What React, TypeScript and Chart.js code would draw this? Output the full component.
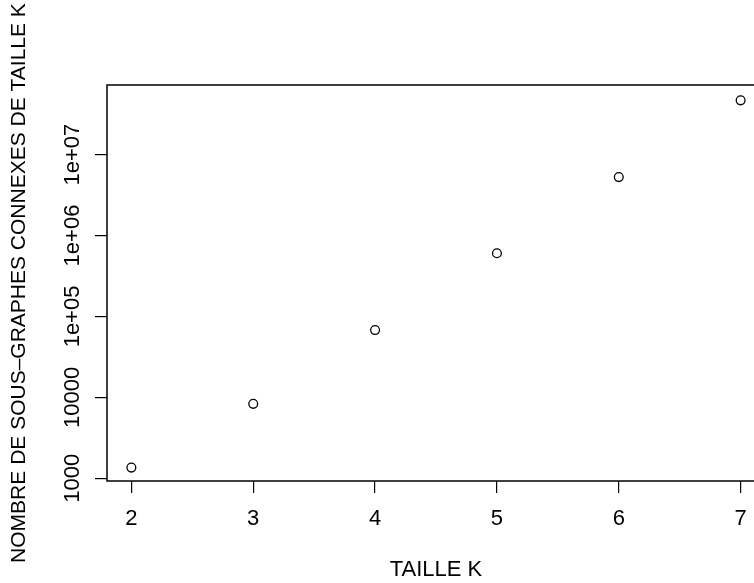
import React, { useEffect, useRef } from "react";
import { Chart, registerables } from "chart.js";

Chart.register(...registerables);

// Subgraph sizes k and the count of connected subgraphs of that size
const sizes = [2, 3, 4, 5, 6, 7];
const counts = [1356, 8318, 67900, 604000, 5270000, 46800000];

// Log-axis tick values and their printed labels
const yTickValues = [1e3, 1e4, 1e5, 1e6, 1e7];
const yTickLabels = ["1000", "10000", "1e+05", "1e+06", "1e+07"];
const xTickValues = [2, 3, 4, 5, 6, 7];

const FONT = "'Liberation Sans', Arial, Helvetica, sans-serif";
const FONT_SIZE = 22;

// Frame drawn around the whole plotting region
const frameBox = {
  id: "frameBox",
  afterDatasetsDraw(chart: any) {
    const { ctx, chartArea } = chart;
    ctx.save();
    ctx.strokeStyle = "#000";
    ctx.lineWidth = 1.5;
    ctx.strokeRect(
      chartArea.left,
      chartArea.top,
      chartArea.right - chartArea.left,
      chartArea.bottom - chartArea.top
    );
    ctx.restore();
  },
};

export default function App() {
  const canvasRef = useRef<HTMLCanvasElement | null>(null);

  useEffect(() => {
    document.body.style.margin = "0";
    const canvas = canvasRef.current;
    if (!canvas) return;
    const chart = new Chart(canvas, {
      type: "scatter",
      data: {
        datasets: [
          {
            data: sizes.map((k, i) => ({ x: k, y: counts[i] })),
            pointStyle: "circle",
            pointRadius: 4.4,
            pointBorderWidth: 1.3,
            pointBorderColor: "#000",
            pointBackgroundColor: "rgba(0,0,0,0)",
            showLine: false,
          },
        ],
      },
      options: {
        animation: false,
        responsive: false,
        devicePixelRatio: 1,
        layout: { padding: { top: 85, right: 35, left: 0, bottom: 0 } },
        plugins: {
          legend: { display: false },
          tooltip: { enabled: false },
        },
        scales: {
          x: {
            type: "linear",
            min: 1.8,
            max: 7.2,
            afterBuildTicks: (scale: any) => {
              scale.ticks = xTickValues.map((v) => ({ value: v }));
            },
            afterFit: (scale: any) => {
              scale.height = 102;
            },
            border: { display: false },
            grid: {
              drawOnChartArea: false,
              drawTicks: true,
              tickLength: 12,
              color: "#000",
              lineWidth: 1.2,
            },
            ticks: {
              color: "#000",
              font: { family: FONT, size: FONT_SIZE },
              padding: 13,
              maxRotation: 0,
              autoSkip: false,
              callback: (v: any) => String(v),
            },
            title: {
              display: true,
              text: "TAILLE K",
              color: "#000",
              font: { family: FONT, size: FONT_SIZE },
              padding: { top: 0, bottom: 0 },
            },
          },
          y: {
            type: "logarithmic",
            min: 926.8,
            max: 7.24e7,
            afterBuildTicks: (scale: any) => {
              scale.ticks = yTickValues.map((v) => ({ value: v }));
            },
            afterFit: (scale: any) => {
              scale.width = 107;
            },
            border: { display: false },
            grid: {
              drawOnChartArea: false,
              drawTicks: true,
              tickLength: 12,
              color: "#000",
              lineWidth: 1.2,
            },
            ticks: {
              color: "#000",
              font: { family: FONT, size: FONT_SIZE },
              minRotation: 90,
              maxRotation: 90,
              crossAlign: "center",
              padding: -8.6,
              autoSkip: false,
              callback: (v: any) => {
                const i = yTickValues.indexOf(Number(v));
                return i >= 0 ? yTickLabels[i] : "";
              },
            },
            title: {
              display: true,
              text: "NOMBRE DE SOUS–GRAPHES CONNEXES DE TAILLE K",
              color: "#000",
              font: { family: FONT, size: 21 },
              padding: { top: 6.4, bottom: 0 },
            },
          },
        },
      },
      plugins: [frameBox],
    } as any);
    return () => chart.destroy();
  }, []);

  return (
    <div
      style={{
        position: "fixed",
        left: 0,
        top: 0,
        width: 754,
        height: 583,
        overflow: "hidden",
        background: "#fff",
      }}
    >
      <canvas ref={canvasRef} width={800} height={583} style={{ display: "block" }} />
    </div>
  );
}
